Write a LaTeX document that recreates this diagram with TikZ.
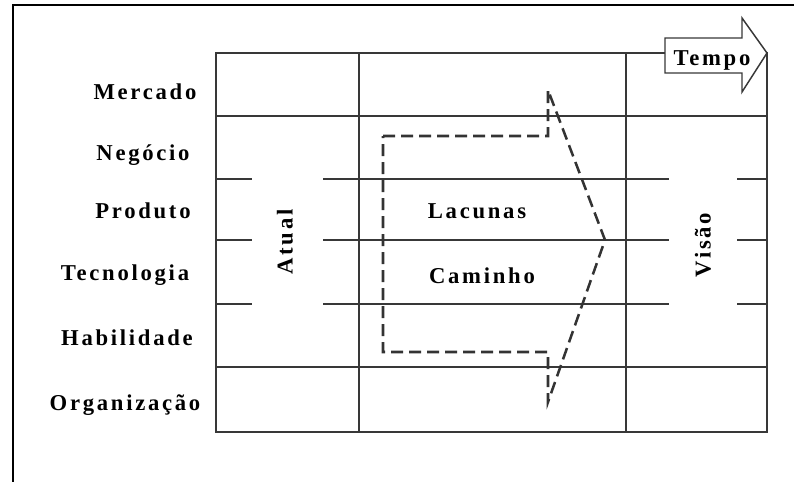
\documentclass[tikz,border=0pt]{standalone}
\usepackage{fontspec}
\setmainfont{Liberation Serif}
\newfontfamily\lblfont[LetterSpace=12]{Liberation Serif}
\begin{document}
\begin{tikzpicture}[x=0.75pt,y=-0.75pt,
  gridline/.style={draw=black!78, line width=1.1pt},
  frameline/.style={draw=black, line width=1.1pt},
  lbl/.style={font=\lblfont\bfseries\fontsize{17}{20}\selectfont, inner sep=0pt, text=black},
  patharrow/.style={draw=black!80, line width=1.9pt, dash pattern=on 9pt off 4.5pt, line join=miter},
  tempoarrow/.style={draw=black!78, fill=white, line width=1.1pt, line join=miter}]
\useasboundingbox (0,0) rectangle (794,482);
% outer frame (only left and top edges visible)
\draw[frameline] (13,482) -- (13,5) -- (794,5);
% grid
\draw[gridline] (216,53) rectangle (767,432);
\foreach \x in {359,626} \draw[gridline] (\x,53) -- (\x,432);
\foreach \y in {116,367} \draw[gridline] (216,\y) -- (767,\y);
\foreach \y in {179,240,304} {
  \draw[gridline] (216,\y) -- (252,\y);
  \draw[gridline] (323,\y) -- (669,\y);
  \draw[gridline] (737,\y) -- (767,\y);
}
% row labels
\node[lbl, anchor=base] (mercado) at (145,99) {Mercado};
\node[lbl, anchor=base] (negocio) at (143,160) {Negócio};
\node[lbl, anchor=base] (produto) at (143,218) {Produto};
\node[lbl, anchor=base] (tecnologia) at (125,280) {Tecnologia};
\node[lbl, anchor=base] (habilidade) at (127,345) {Habilidade};
\node[lbl, anchor=base] (organizacao) at (125,410) {Organização};
% column labels
\node[lbl, rotate=90] (atual) at (285,242) {Atual};
\node[lbl, rotate=90] (visao) at (703,245) {Visão};
% gap path arrow
\draw[patharrow] (383,136) -- (548,136) -- (548,90) -- (605,240) -- (548,402) -- (548,352) -- (383,352) -- cycle;
\node[lbl, anchor=base] (lacunas) at (477,218) {Lacunas};
\node[lbl, anchor=base] (caminho) at (482,283) {Caminho};
% time arrow
\draw[tempoarrow] (665,38) -- (742,38) -- (742,18) -- (767,53) -- (742,92) -- (742,73) -- (665,73) -- cycle;
\node[lbl, anchor=base] (tempo) at (712,65) {Tempo};
\end{tikzpicture}
\end{document}
